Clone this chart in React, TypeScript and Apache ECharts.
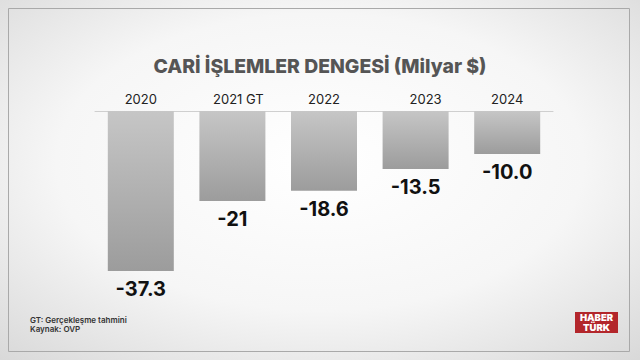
import React, { useEffect, useRef } from "react";
import * as echarts from "echarts";

const categories = ["2020", "2021 GT", "2022", "2023", "2024"];
const values = [-37.3, -21, -18.6, -13.5, -10.0];
const valueLabels = ["-37.3", "-21", "-18.6", "-13.5", "-10.0"];
const titleText = "CARİ İŞLEMLER DENGESİ (Milyar $)";
const footnotes = ["GT: Gerçekleşme tahmini", "Kaynak: OVP"];

export default function App() {
  const ref = useRef<HTMLDivElement>(null);
  useEffect(() => {
    if (!ref.current) return;
    const chart = echarts.init(ref.current, undefined, { renderer: "svg" });
    const font = "Inter, 'Open Sans', sans-serif";
    const labelShift: Record<string, number> = { "2021 GT": 12, "2023": 20 };
    chart.setOption({
      animation: false,
      backgroundColor: new echarts.graphic.RadialGradient(0.5, 0.45, 0.75, [
        { offset: 0, color: "#ffffff" },
        { offset: 0.55, color: "#f6f6f6" },
        { offset: 1, color: "#d8d8d8" },
      ]),
      title: {
        text: titleText,
        left: "center",
        top: 51,
        textStyle: { fontFamily: font, fontWeight: 800, fontSize: 19.4, color: "#555555" },
      },
      grid: { left: 95, top: 111, width: 458, height: 171.6, containLabel: false },
      xAxis: {
        type: "category",
        position: "top",
        data: categories,
        axisTick: { show: false },
        axisLine: { show: true, lineStyle: { color: "#cfcfcf", width: 1 } },
        axisLabel: {
          interval: 0,
          hideOverlap: false,
          fontFamily: font,
          fontSize: 13,
          color: "#222222",
          margin: 6,
          formatter: (v: string) => (labelShift[v] ? `{s${labelShift[v]}|${v}}` : v),
          rich: {
            s12: { fontFamily: font, fontSize: 13, color: "#222222", padding: [0, 0, 0, 12] },
            s20: { fontFamily: font, fontSize: 13, color: "#222222", padding: [0, 0, 0, 20] },
          },
        },
      },
      yAxis: {
        type: "value",
        min: -40,
        max: 0,
        show: false,
        splitLine: { show: false },
      },
      series: [
        {
          type: "bar",
          data: values,
          barWidth: 66,
          itemStyle: {
            color: new echarts.graphic.LinearGradient(0, 0, 0, 1, [
              { offset: 0, color: "#c6c6c6" },
              { offset: 1, color: "#9c9c9c" },
            ]),
          },
          label: {
            show: true,
            position: "bottom",
            distance: 8,
            formatter: (p: any) => valueLabels[p.dataIndex],
            fontFamily: font,
            fontWeight: 700,
            fontSize: 20,
            color: "#111111",
          },
        },
      ],
      graphic: [
        {
          type: "rect",
          shape: { x: 8.5, y: 8.5, width: 621, height: 343 },
          style: { fill: "none", stroke: "#a9a9a9", lineWidth: 1 },
          silent: true,
        },
        {
          type: "text",
          left: 30,
          top: 315,
          style: {
            text: footnotes.join("\n"),
            fontFamily: font,
            fontWeight: 600,
            fontSize: 8,
            lineHeight: 9,
            fill: "#333333",
          },
        },
        {
          type: "rect",
          shape: { x: 575, y: 312, width: 43, height: 21 },
          style: { fill: "#b3262b" },
        },
        {
          type: "text",
          x: 596.5,
          y: 317.5,
          style: {
            text: "HABER",
            fontFamily: font,
            fontWeight: 900,
            fontSize: 9.5,
            fill: "#ffffff",
            align: "center",
            verticalAlign: "middle",
          },
        },
        {
          type: "text",
          x: 596.5,
          y: 327.5,
          style: {
            text: "TÜRK",
            fontFamily: font,
            fontWeight: 900,
            fontSize: 9.5,
            fill: "#ffffff",
            align: "center",
            verticalAlign: "middle",
          },
        },
      ],
    });
    return () => chart.dispose();
  }, []);
  return (
    <div
      ref={ref}
      style={{ position: "absolute", left: 0, top: 0, width: 640, height: 360 }}
    />
  );
}
